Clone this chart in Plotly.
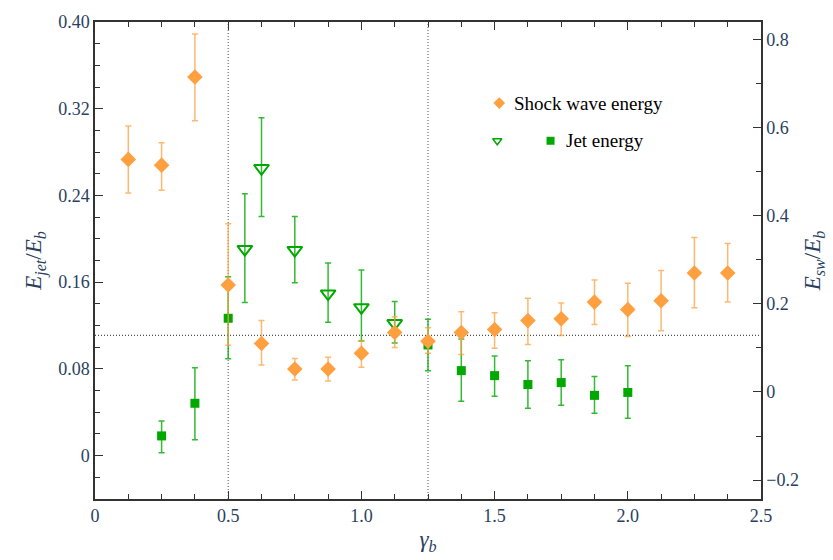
import plotly.graph_objects as go

# ---- data ----
gamma_sw = [0.125, 0.25, 0.375, 0.5, 0.625, 0.75, 0.875, 1.0, 1.125, 1.25,
            1.375, 1.5, 1.625, 1.75, 1.875, 2.0, 2.125, 2.25, 2.375]
e_sw = [0.528, 0.515, 0.715, 0.243, 0.110, 0.052, 0.052, 0.088, 0.135, 0.115,
        0.135, 0.142, 0.162, 0.166, 0.204, 0.187, 0.207, 0.270, 0.270]
e_sw_hi = [0.604, 0.566, 0.813, 0.382, 0.162, 0.076, 0.079, 0.117, 0.171, 0.146,
           0.182, 0.180, 0.213, 0.202, 0.254, 0.247, 0.276, 0.351, 0.337]
e_sw_lo = [0.452, 0.458, 0.616, 0.106, 0.061, 0.027, 0.025, 0.056, 0.101, 0.088,
           0.085, 0.099, 0.108, 0.128, 0.153, 0.126, 0.139, 0.191, 0.204]

gamma_jet_sq = [0.25, 0.375, 0.5, 1.25, 1.375, 1.5, 1.625, 1.75, 1.875, 2.0]
e_jet_sq = [0.0182, 0.0483, 0.1267, 0.1021, 0.0784, 0.0738, 0.0656, 0.0674, 0.0556, 0.0583]
e_jet_sq_hi = [0.0319, 0.0811, 0.1649, 0.1257, 0.1075, 0.0920, 0.0875, 0.0884, 0.0729, 0.0829]
e_jet_sq_lo = [0.0027, 0.0146, 0.0893, 0.0784, 0.0501, 0.0547, 0.0437, 0.0465, 0.0392, 0.0346]

gamma_jet_tri = [0.5625, 0.625, 0.75, 0.875, 1.0, 1.125]
e_jet_tri = [0.1904, 0.2651, 0.1895, 0.1494, 0.1367, 0.1221]
e_jet_tri_hi = [0.2415, 0.3116, 0.2205, 0.1777, 0.1713, 0.1421]
e_jet_tri_lo = [0.1412, 0.2205, 0.1595, 0.1230, 0.1057, 0.1039]

vlines = [0.5, 1.25]
hline = 0.111

x_ticks = [0, 0.5, 1.0, 1.5, 2.0, 2.5]
x_ticklabels = ["0", "0.5", "1.0", "1.5", "2.0", "2.5"]
yl_ticks = [0, 0.08, 0.16, 0.24, 0.32, 0.40]
yl_ticklabels = ["0", "0.08", "0.16", "0.24", "0.32", "0.40"]
yr_ticks = [-0.2, 0, 0.2, 0.4, 0.6, 0.8]
yr_ticklabels = ["\u22120.2", "0", "0.2", "0.4", "0.6", "0.8"]

ORANGE = "#FFA040"
ORANGE_ERR = "rgba(255,160,64,0.75)"
GREEN = "#00A800"
GREEN_ERR = "rgba(0,168,0,0.8)"
FONT = "Liberation Serif"
AX = "#333333"


def diffs(v, hi, lo):
    return [h - a for a, h in zip(v, hi)], [a - l for a, l in zip(v, lo)]


fig = go.Figure()

p, m = diffs(e_sw, e_sw_hi, e_sw_lo)
fig.add_trace(go.Scatter(
    x=gamma_sw, y=e_sw, mode="markers", yaxis="y2", name="Shock wave energy",
    marker=dict(symbol="diamond", size=12, color=ORANGE),
    error_y=dict(type="data", symmetric=False, array=p, arrayminus=m,
                 color=ORANGE_ERR, thickness=1.5, width=3),
    showlegend=False))

p, m = diffs(e_jet_tri, e_jet_tri_hi, e_jet_tri_lo)
fig.add_trace(go.Scatter(
    x=gamma_jet_tri, y=e_jet_tri, mode="markers", name="Jet energy (open)",
    marker=dict(symbol="triangle-down-open", size=13, color=GREEN, line=dict(width=2, color=GREEN)),
    error_y=dict(type="data", symmetric=False, array=p, arrayminus=m,
                 color=GREEN_ERR, thickness=1.5, width=3),
    showlegend=False))

p, m = diffs(e_jet_sq, e_jet_sq_hi, e_jet_sq_lo)
fig.add_trace(go.Scatter(
    x=gamma_jet_sq, y=e_jet_sq, mode="markers", name="Jet energy",
    marker=dict(symbol="square", size=9, color=GREEN),
    error_y=dict(type="data", symmetric=False, array=p, arrayminus=m,
                 color=GREEN_ERR, thickness=1.5, width=3),
    showlegend=False))

# manual legend on a hidden unit axis pair
fig.add_trace(go.Scatter(x=[0.607], y=[0.830], xaxis="x3", yaxis="y3", mode="markers",
                         marker=dict(symbol="diamond", size=9, color=ORANGE), showlegend=False, hoverinfo="skip"))
fig.add_trace(go.Scatter(x=[0.604], y=[0.751], xaxis="x3", yaxis="y3", mode="markers",
                         marker=dict(symbol="triangle-down-open", size=8, color=GREEN, line=dict(width=1.5, color=GREEN)),
                         showlegend=False, hoverinfo="skip"))
fig.add_trace(go.Scatter(x=[0.684], y=[0.751], xaxis="x3", yaxis="y3", mode="markers",
                         marker=dict(symbol="square", size=8, color=GREEN), showlegend=False, hoverinfo="skip"))

annotations = [
    dict(x=0.626, y=0.830, xref="x3", yref="y3", text="Shock wave energy", showarrow=False,
         xanchor="left", yanchor="middle", font=dict(family=FONT, size=19, color="black")),
    dict(x=0.704, y=0.751, xref="x3", yref="y3", text="Jet energy", showarrow=False,
         xanchor="left", yanchor="middle", font=dict(family=FONT, size=19, color="black")),
]

shapes = []
for v in vlines:
    shapes.append(dict(type="line", x0=v, x1=v, y0=0, y1=1, xref="x", yref="paper",
                       line=dict(color="#555555", width=1, dash="1px,2px"), layer="below"))
shapes.append(dict(type="line", x0=0, x1=1, y0=hline, y1=hline, xref="paper", yref="y",
                   line=dict(color="#222222", width=1, dash="1px,2px"), layer="below"))

tickfont = dict(family=FONT, size=18)
titlefont = dict(family=FONT, size=23)

fig.update_layout(
    width=833, height=560,
    margin=dict(l=95, r=71, t=18, b=60),
    plot_bgcolor="white", paper_bgcolor="white",
    shapes=shapes, annotations=annotations,
    xaxis=dict(range=[0, 2.5], tickvals=x_ticks, ticktext=x_ticklabels,
               ticks="inside", ticklen=8, tickwidth=1.2, tickcolor=AX,
               minor=dict(tick0=0, dtick=0.125, ticks="inside", ticklen=5, tickcolor=AX, showgrid=False),
               showline=True, linecolor=AX, linewidth=1.5, mirror="ticks",
               showgrid=False, zeroline=False, tickfont=tickfont,
               title=dict(text="<i>\u03b3<sub>b</sub></i>", font=titlefont, standoff=6)),
    yaxis=dict(range=[-0.04, 0.40], tickvals=yl_ticks, ticktext=yl_ticklabels,
               ticks="inside", ticklen=8, tickwidth=1.2, tickcolor=AX,
               minor=dict(tick0=0, dtick=0.02, ticks="inside", ticklen=5, tickcolor=AX, showgrid=False),
               showline=True, linecolor=AX, linewidth=1.5,
               showgrid=False, zeroline=False, tickfont=tickfont,
               title=dict(text="<i>E<sub>jet</sub></i>/<i>E<sub>b</sub></i>", font=titlefont, standoff=10)),
    yaxis2=dict(range=[-0.243, 0.84], overlaying="y", side="right",
                tickvals=yr_ticks, ticktext=yr_ticklabels,
                ticks="inside", ticklen=8, tickwidth=1.2, tickcolor=AX,
                minor=dict(tick0=0, dtick=0.1, ticks="inside", ticklen=5, tickcolor=AX, showgrid=False),
                showline=True, linecolor=AX, linewidth=1.5,
                showgrid=False, zeroline=False, tickfont=tickfont,
                title=dict(text="<i>E<sub>sw</sub></i>/<i>E<sub>b</sub></i>", font=titlefont, standoff=6)),
    xaxis3=dict(range=[0, 1], overlaying="x", visible=False),
    yaxis3=dict(range=[0, 1], overlaying="y", visible=False),
)

# re-draw once fonts are ready so text is measured/painted with the serif face
post = ("var gd=document.getElementById('{plot_id}');"
        "if(document.fonts&&document.fonts.ready){document.fonts.ready.then(function(){Plotly.redraw(gd);});}")
fig.write_html("out.html", post_script=post)
